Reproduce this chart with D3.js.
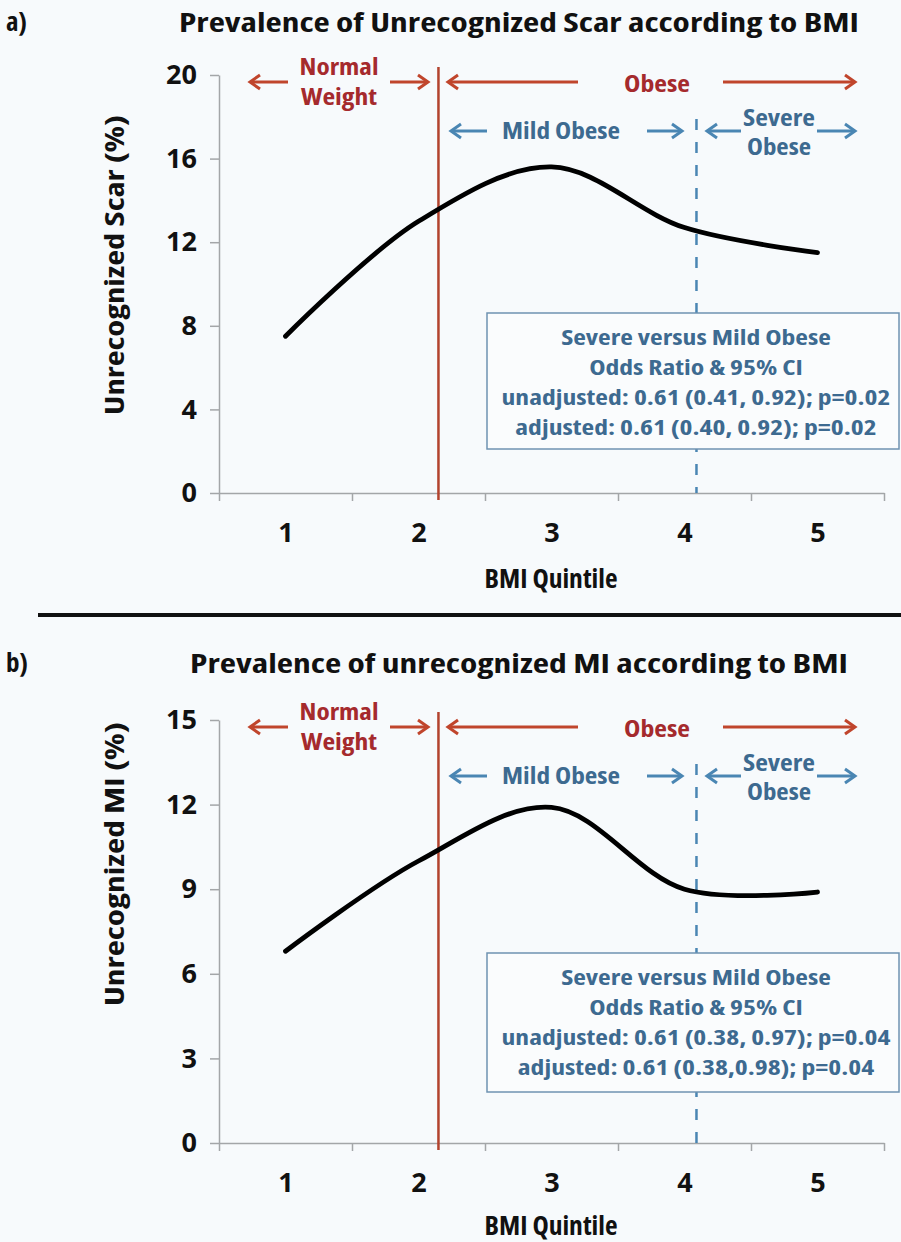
<!DOCTYPE html>
<html>
<head>
<meta charset="utf-8">
<script src="https://cdn.jsdelivr.net/npm/d3@7"></script>
<style>
  body { margin: 0; background: #f7fafc; }
  svg { display: block; }
  svg text { font-family: "Open Sans", Lato, sans-serif; font-weight: bold; font-stretch: 87.5%; }
</style>
</head>
<body>
<script>
// data
const quintiles = [1, 2, 3, 4, 5];
const scarPct = [7.5, 13.0, 15.6, 12.7, 11.5];
const miPct = [6.8, 10.0, 11.9, 9.0, 8.9];
const scarTicks = [0, 4, 8, 12, 16, 20];
const miTicks = [0, 3, 6, 9, 12, 15];
const normalCut = 2.15;   // normal weight / obese boundary (in quintile units)
const severeCut = 4.09;   // mild / severe obese boundary
const scarStats = ["Severe versus Mild Obese", "Odds Ratio & 95% CI",
  "unadjusted: 0.61 (0.41, 0.92); p=0.02", "adjusted: 0.61 (0.40, 0.92); p=0.02"];
const miStats = ["Severe versus Mild Obese", "Odds Ratio & 95% CI",
  "unadjusted: 0.61 (0.38, 0.97); p=0.04", "adjusted: 0.61 (0.38,0.98); p=0.04"];

const W = 901, H = 1242;
const red = "#c0452c", redText = "#a52a2d", blue = "#4a86b3", blueText = "#3d6a90";

const svg = d3.select("body").append("svg")
  .attr("width", W).attr("height", H);

const x = d3.scaleLinear().domain([0.5, 5.5]).range([219, 884]);

const panels = [
  { tag: "a)", title: "Prevalence of Unrecognized Scar according to BMI", titleY: 22, titleW: 680,
    yTitle: "Unrecognized Scar (%)", yTitleY: 265, yTitleW: 300, values: scarPct, ticks: scarTicks,
    top: 75, bottom: 493, boxTop: 313, boxBottom: 449, lineY: 338, stats: scarStats, xTitleY: 588 },
  { tag: "b)", title: "Prevalence of unrecognized MI according to BMI", titleY: 663, titleW: 658,
    yTitle: "Unrecognized MI (%)", yTitleY: 864, yTitleW: 284, values: miPct, ticks: miTicks,
    top: 720, bottom: 1143, boxTop: 953, boxBottom: 1092, lineY: 978, stats: miStats, xTitleY: 1235 }
];

function arrow(g, x1, x2, y, color) {
  // arrow pointing from x1 to x2
  const dir = x2 > x1 ? 1 : -1;
  g.append("line").attr("x1", x1).attr("x2", x2 - dir * 2).attr("y1", y).attr("y2", y)
    .attr("stroke", color).attr("stroke-width", 3);
  g.append("path")
    .attr("d", `M${x2 - dir * 10},${y - 7}L${x2},${y}L${x2 - dir * 10},${y + 7}`)
    .attr("fill", "none").attr("stroke", color).attr("stroke-width", 3);
}

// text set to the width it has in the figure
function fitText(sel, width) {
  return sel.attr("textLength", width).attr("lengthAdjust", "spacingAndGlyphs");
}

panels.forEach(p => {
  const g = svg.append("g");
  const y = d3.scaleLinear().domain([0, d3.max(p.ticks)]).range([p.bottom, p.top]);
  const t = p.top;

  // panel tag and title
  g.append("text").attr("x", 6).attr("y", p.titleY + 9)
    .attr("font-size", 27).attr("fill", "#111").text(p.tag);
  fitText(g.append("text").attr("x", 519).attr("y", p.titleY + 10)
    .attr("text-anchor", "middle").attr("font-size", 27).attr("fill", "#111").text(p.title), p.titleW);

  // axes
  const yAxis = g.append("g").attr("transform", `translate(${x.range()[0]},0)`)
    .call(d3.axisLeft(y).tickValues(p.ticks).tickSize(9).tickSizeOuter(0).tickPadding(13));
  yAxis.selectAll("text").attr("font-size", 27).attr("fill", "#111").style("font-stretch", "normal");

  const xAxis = g.append("g").attr("transform", `translate(0,${p.bottom})`)
    .call(d3.axisBottom(x).tickValues(d3.range(0.5, 6, 1)).tickSize(8).tickSizeOuter(0).tickFormat(""));
  const xLabels = g.append("g").attr("transform", `translate(0,${p.bottom})`)
    .call(d3.axisBottom(x).tickValues(quintiles).tickFormat(d3.format("d")).tickSize(0).tickPadding(30));
  xLabels.select(".domain").remove();
  xLabels.selectAll("text").attr("font-size", 27).attr("fill", "#111").style("font-stretch", "normal");

  [yAxis, xAxis].forEach(a => {
    a.selectAll(".domain, line").attr("stroke", "#a3a6a8").attr("stroke-width", 1.5);
  });

  fitText(g.append("text").attr("x", 551).attr("y", p.xTitleY)
    .attr("text-anchor", "middle").attr("font-size", 26).attr("fill", "#111").text("BMI Quintile"), 133);
  fitText(g.append("text").attr("transform", `translate(124,${p.yTitleY}) rotate(-90)`)
    .attr("text-anchor", "middle").attr("font-size", 26).attr("fill", "#111").text(p.yTitle), p.yTitleW);

  // category boundaries
  g.append("line").attr("x1", x(normalCut)).attr("x2", x(normalCut))
    .attr("y1", t - 8).attr("y2", p.bottom + 7)
    .attr("stroke", "#b2432d").attr("stroke-width", 2.5);
  g.append("line").attr("x1", x(severeCut)).attr("x2", x(severeCut))
    .attr("y1", t + 44).attr("y2", p.bottom)
    .attr("stroke", blue).attr("stroke-width", 2.5).attr("stroke-dasharray", "11,12");

  // red annotations
  arrow(g, 288, 250, t + 7, red);
  arrow(g, 390, 428, t + 7, red);
  arrow(g, 578, 448, t + 7, red);
  arrow(g, 723, 855, t + 7, red);
  const label = (txt, cx, cy, col, w) => fitText(g.append("text").attr("x", cx).attr("y", cy)
    .attr("text-anchor", "middle").attr("font-size", 23).attr("fill", col).text(txt), w);
  label("Normal", 339, t, redText, 79);
  label("Weight", 339, t + 30, redText, 76);
  label("Obese", 657, t + 17, redText, 66);

  // blue annotations
  arrow(g, 487, 451, t + 56, blue);
  arrow(g, 647, 682, t + 56, blue);
  arrow(g, 741, 707, t + 56, blue);
  arrow(g, 817, 855, t + 56, blue);
  label("Mild Obese", 561, t + 64, blueText, 118);
  label("Severe", 779, t + 51, blueText, 72);
  label("Obese", 779, t + 80, blueText, 64);

  // curve
  const line = d3.line()
    .x((d, i) => x(quintiles[i]))
    .y(d => y(d))
    .curve(d3.curveCatmullRom.alpha(0.5));
  g.append("path").datum(p.values).attr("d", line)
    .attr("fill", "none").attr("stroke", "#000").attr("stroke-width", 4.8)
    .attr("stroke-linecap", "round");

  // stats box
  g.append("rect").attr("x", 487).attr("y", p.boxTop)
    .attr("width", 412).attr("height", p.boxBottom - p.boxTop)
    .attr("fill", "#fafcfd").attr("stroke", "#6f93b1").attr("stroke-width", 1.5);
  const lines = g.selectAll(".stat").data(p.stats).join("text")
    .attr("class", "stat")
    .attr("x", 696).attr("y", (d, i) => p.lineY + i * 30 + 7)
    .attr("text-anchor", "middle").attr("font-size", 21).attr("fill", blueText)
    .text(d => d);
  // stretch all lines by the ratio that makes the widest one match the figure
  const k = 389 / lines.nodes()[2].getComputedTextLength();
  lines.each(function () {
    d3.select(this).attr("textLength", this.getComputedTextLength() * k)
      .attr("lengthAdjust", "spacingAndGlyphs");
  });
});

// separator between panels
svg.append("line").attr("x1", 38).attr("x2", W).attr("y1", 615).attr("y2", 615)
  .attr("stroke", "#111").attr("stroke-width", 4);
</script>
</body>
</html>
